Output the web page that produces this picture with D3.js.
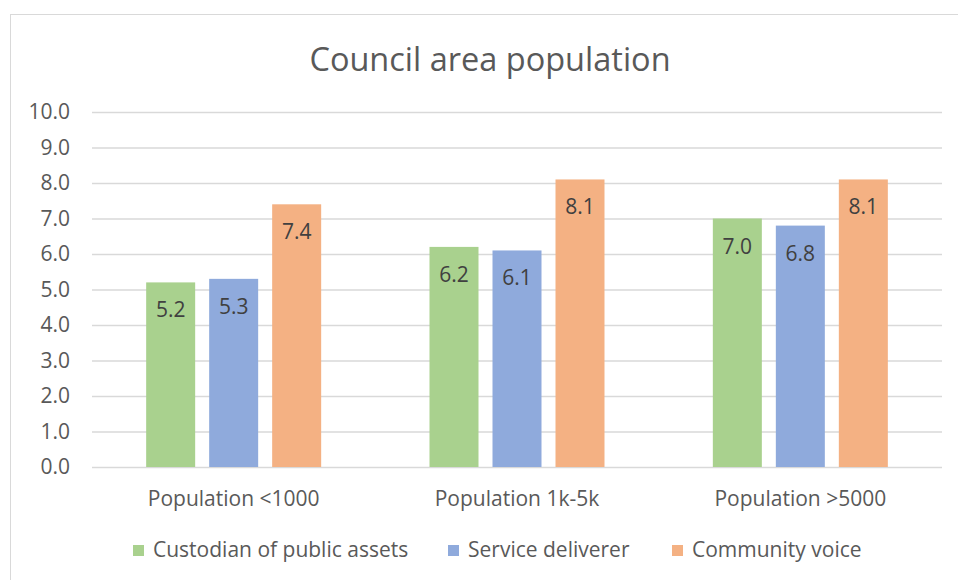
<!DOCTYPE html>
<html>
<head>
<meta charset="utf-8">
<script src="https://cdn.jsdelivr.net/npm/d3@7"></script>
<style>
  html, body { margin: 0; padding: 0; background: #fff; }
  svg { display: block; font-family: "Open Sans", Lato, sans-serif; }
</style>
</head>
<body>
<svg id="chart" width="958" height="580"></svg>
<script>
// Council area population: mean rating of each council role, by population band
const categories = ["Population <1000", "Population 1k-5k", "Population >5000"];
const seriesNames = ["Custodian of public assets", "Service deliverer", "Community voice"];
const custodianValues = [5.2, 6.2, 7.0];
const serviceValues = [5.3, 6.1, 6.8];
const communityValues = [7.4, 8.1, 8.1];
const yTicks = [0, 1, 2, 3, 4, 5, 6, 7, 8, 9, 10];
const seriesColors = ["#a9d18e", "#8faadc", "#f4b183"];

const seriesValues = [custodianValues, serviceValues, communityValues];
const rows = categories.map((c, i) => ({
  category: c,
  values: seriesNames.map((s, j) => ({ series: s, index: j, value: seriesValues[j][i] }))
}));

const svg = d3.select("#chart");
const W = 958, H = 580;
const plot = { left: 92, right: 942, top: 112, bottom: 467 };
const FONT = "'Open Sans', Lato, sans-serif";

// chart frame
svg.append("rect")
  .attr("x", 10.5).attr("y", 14.5)
  .attr("width", W + 10).attr("height", H + 10)
  .attr("fill", "#fff").attr("stroke", "#d9d9d9").attr("stroke-width", 1);

// title
svg.append("text")
  .attr("x", 490).attr("y", 71)
  .attr("text-anchor", "middle")
  .attr("font-size", 32.5)
  .attr("fill", "#595959")
  .text("Council area population");

const x0 = d3.scaleBand().domain(categories).range([plot.left, plot.right]).paddingInner(0).paddingOuter(0);
const barStep = 63, barWidth = 49;
const x1 = d3.scaleBand().domain(seriesNames)
  .range([-(barStep * 3 - (barStep - barWidth)) / 2, (barStep * 3 - (barStep - barWidth)) / 2])
  .paddingInner((barStep - barWidth) / barStep).paddingOuter(0);
const y = d3.scaleLinear().domain([0, 10]).range([plot.bottom, plot.top]);

// gridlines and y tick labels
const yAxis = d3.axisLeft(y)
  .tickValues(yTicks)
  .tickFormat(d3.format(".1f"))
  .tickSize(-(plot.right - plot.left))
  .tickPadding(22);
const yg = svg.append("g")
  .attr("transform", `translate(${plot.left},0)`)
  .call(yAxis);
yg.select(".domain").remove();
yg.selectAll(".tick line").attr("stroke", "#d9d9d9").attr("stroke-width", 1.3);
yg.selectAll(".tick text")
  .attr("fill", "#595959")
  .attr("font-size", 21)
  .attr("font-family", FONT);

// bars
const groups = svg.append("g").selectAll("g")
  .data(rows).join("g")
  .attr("transform", d => `translate(${x0(d.category) + x0.bandwidth() / 2},0)`);

groups.selectAll("rect")
  .data(d => d.values).join("rect")
  .attr("x", d => x1(d.series))
  .attr("width", x1.bandwidth())
  .attr("y", d => y(d.value))
  .attr("height", d => y(0) - y(d.value))
  .attr("fill", d => seriesColors[d.index]);

// value labels inside the bar tops
groups.selectAll("text.value")
  .data(d => d.values).join("text")
  .attr("class", "value")
  .attr("x", d => x1(d.series) + x1.bandwidth() / 2)
  .attr("y", d => y(d.value) + 35)
  .attr("text-anchor", "middle")
  .attr("font-size", 21)
  .attr("fill", "#404040")
  .text(d => d3.format(".1f")(d.value));

// category labels
svg.append("g").selectAll("text")
  .data(categories).join("text")
  .attr("x", d => x0(d) + x0.bandwidth() / 2)
  .attr("y", 506)
  .attr("text-anchor", "middle")
  .attr("font-size", 21)
  .attr("fill", "#595959")
  .text(d => d);

// legend
const legendX = [133, 448, 672];
const legend = svg.append("g").selectAll("g")
  .data(seriesNames).join("g")
  .attr("transform", (d, i) => `translate(${legendX[i]},545)`);
legend.append("rect")
  .attr("width", 11).attr("height", 11)
  .attr("fill", (d, i) => seriesColors[i]);
legend.append("text")
  .attr("x", 20).attr("y", 12)
  .attr("font-size", 21)
  .attr("fill", "#595959")
  .text(d => d);
</script>
</body>
</html>
